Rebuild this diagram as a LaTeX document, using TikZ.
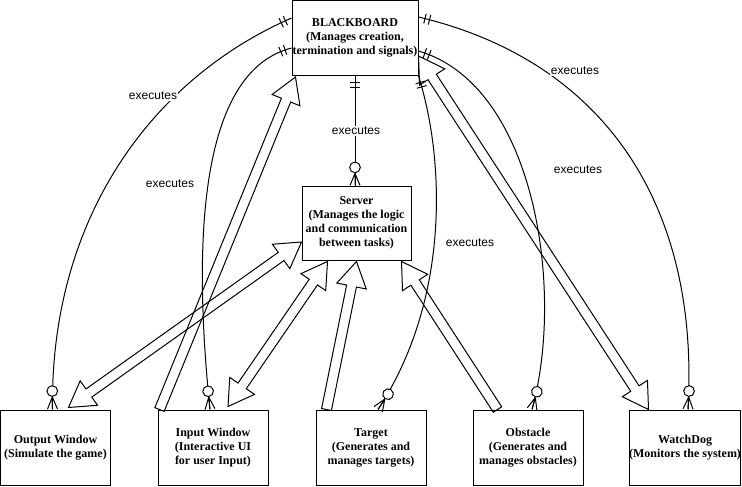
\documentclass[tikz,border=0pt]{standalone}
\usepackage{fontspec}
\setmainfont{Liberation Serif}
\setsansfont{Liberation Sans}
\usetikzlibrary{calc,decorations.markings}

% hollow block arrow, one head (tail, tip)
\newcommand{\flexone}[2]{%
  \coordinate (fh) at ($(#2)!18.75pt!(#1)$);
  \draw[flex] ($(#1)!3.75pt!90:(#2)$) -- ($(fh)!3.75pt!-90:(#1)$) -- ($(fh)!11.25pt!-90:(#1)$) -- (#2)
    -- ($(fh)!11.25pt!90:(#1)$) -- ($(fh)!3.75pt!90:(#1)$) -- ($(#1)!3.75pt!-90:(#2)$) -- cycle;
}
% hollow block arrow, two heads
\newcommand{\flexboth}[2]{%
  \coordinate (fa) at ($(#1)!18.75pt!(#2)$);
  \coordinate (fb) at ($(#2)!18.75pt!(#1)$);
  \draw[flex] (#1) -- ($(fa)!11.25pt!90:(#2)$) -- ($(fa)!3.75pt!90:(#2)$) -- ($(fb)!3.75pt!-90:(#1)$)
    -- ($(fb)!11.25pt!-90:(#1)$) -- (#2) -- ($(fb)!11.25pt!90:(#1)$) -- ($(fb)!3.75pt!90:(#1)$)
    -- ($(fa)!3.75pt!-90:(#2)$) -- ($(fa)!11.25pt!-90:(#2)$) -- cycle;
}

\begin{document}
\begin{tikzpicture}[
    x=0.75pt, y=-0.75pt, line width=0.75pt,
    box/.style={rectangle, draw, fill=white, align=center, inner sep=0pt,
        minimum width=82.5pt, minimum height=56.25pt,
        font=\bfseries\fontsize{9}{10.5}\selectfont},
    lbl/.style={fill=white, inner sep=1pt, font=\sffamily\fontsize{9}{10}\selectfont},
    flex/.style={line join=miter},
    erlink/.style={postaction={decorate}, decoration={markings,
        mark=at position 5pt with {\draw (0pt,-3.75pt) -- (0pt,3.75pt);},
        mark=at position 8.5pt with {\draw (0pt,-3.75pt) -- (0pt,3.75pt);},
        mark=at position 0.999 with {\draw (-9pt,0pt) -- (0pt,3.75pt) (-9pt,0pt) -- (0pt,-3.75pt) (-9pt,0pt) -- (0pt,0pt);
            \draw[fill=white] (-13.5pt,0pt) circle (4pt);}}}
]
    \useasboundingbox (0,0) rectangle (742,486);

    % Blackboard and server
    \node[box, minimum width=94.5pt] (bb) at (355,38) {BLACKBOARD\\(Manages creation,\\termination and signals)};
    \node[box, minimum width=81.75pt, minimum height=55.5pt] (srv) at (356.5,223) {Server\\(Manages the logic\\and communication\\between tasks)};

    % Processes
    \node[box] (out) at (55.5,447.5) {Output Window\\(Simulate the game)};
    \node[box] (inp) at (213,447.5) {Input Window\\(Interactive UI\\for user Input)};
    \node[box] (tgt) at (371,447.5) {Target\\(Generates and\\manages targets)};
    \node[box] (obs) at (528,447.5) {Obstacle\\(Generates and\\manages obstacles)};
    \node[box] (wd) at (685,447.5) {WatchDog\\(Monitors the system)};

    % executes links
    \draw[erlink] (bb.south) -- (bb.south |- srv.north);
    \draw[erlink] ($(bb.north west)+(0,18)$) .. controls (150,80) and (50,220) .. ($(out.north)+(-3,0)$);
    \draw[erlink] ($(bb.west)+(0,10)$) .. controls (198,72) and (193,245) .. ($(inp.north)+(-3,0)$);
    \draw[erlink] (bb.south east) .. controls (445,160) and (450,300) .. ($(tgt.north)+(7,0)$);
    \draw[erlink] ($(bb.east)+(0,13)$) .. controls (535,85) and (565,290) .. ($(obs.north)+(4,0)$);
    \draw[erlink] ($(bb.north east)+(0,17)$) .. controls (600,60) and (700,200) .. ($(wd.north)+(3,0)$);

    % data flow
    \coordinate (srvW) at ($(srv.west)+(0,19)$);
    \coordinate (outTip) at ($(out.north)+(13,-2)$);
    \coordinate (inpTail) at ($(inp.north west)+(2,0)$);
    \coordinate (bbSW) at ($(bb.south west)+(4,1)$);
    \coordinate (srvSW) at ($(srv.south west)+(26,1)$);
    \coordinate (inpTip) at ($(inp.north)+(15,-3)$);
    \coordinate (tgtTail) at ($(tgt.north west)+(11,0)$);
    \coordinate (srvS) at ($(srv.south)+(0,1)$);
    \coordinate (obsTail) at ($(obs.north west)+(25,0)$);
    \coordinate (srvSE) at ($(srv.south east)+(-10,1)$);
    \coordinate (bbE) at ($(bb.east)+(0,18)$);
    \coordinate (wdTip) at ($(wd.north west)+(20,0)$);

    \flexboth{srvW}{outTip}
    \flexone{inpTail}{bbSW}
    \flexboth{srvSW}{inpTip}
    \flexone{tgtTail}{srvS}
    \flexone{obsTail}{srvSE}
    \flexboth{bbE}{wdTip}

    % labels
    \node[lbl] (l0) at (356,131) {executes};
    \node[lbl] (l1) at (153,96) {executes};
    \node[lbl] (l2) at (170,184) {executes};
    \node[lbl] (l3) at (470,243) {executes};
    \node[lbl] (l4) at (578,170) {executes};
    \node[lbl] (l5) at (575,71) {executes};
\end{tikzpicture}
\end{document}
